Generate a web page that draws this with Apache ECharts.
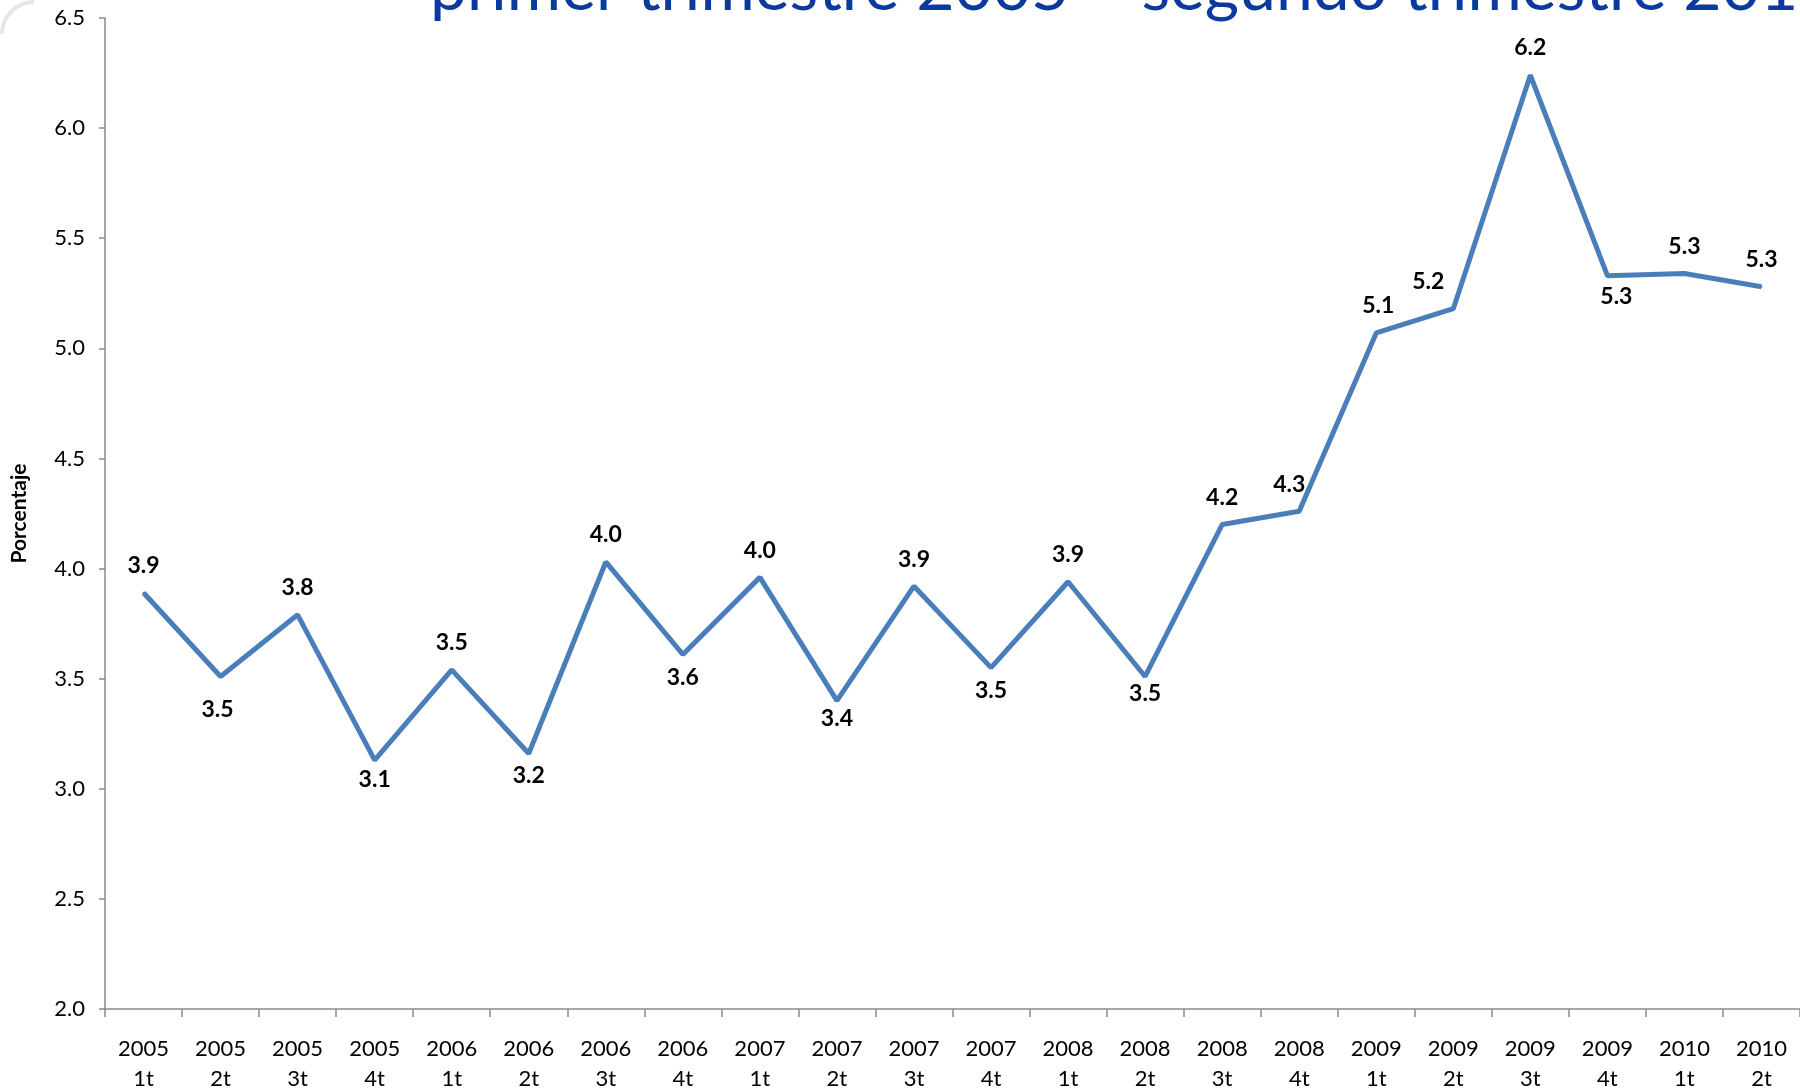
<!DOCTYPE html>
<html>
<head>
<meta charset="utf-8">
<script src="https://cdn.jsdelivr.net/npm/echarts@6/dist/echarts.min.js"></script>
<style>
html,body{margin:0;padding:0;background:#fff;}
#chart{width:1800px;height:1091px;}
</style>
</head>
<body>
<div id="chart"></div>
<script>
// ---- data ----
const years = ['2005','2005','2005','2005','2006','2006','2006','2006','2007','2007','2007','2007','2008','2008','2008','2008','2009','2009','2009','2009','2010','2010'];
const quarters = ['1t','2t','3t','4t','1t','2t','3t','4t','1t','2t','3t','4t','1t','2t','3t','4t','1t','2t','3t','4t','1t','2t'];
const values = [3.89, 3.51, 3.79, 3.13, 3.54, 3.16, 4.03, 3.61, 3.96, 3.40, 3.92, 3.55, 3.94, 3.51, 4.20, 4.26, 5.07, 5.18, 6.24, 5.33, 5.34, 5.28];
const yTicks = { min: 2.0, max: 6.5, interval: 0.5 };
const titleText = 'primer trimestre 2005 \u2013 segundo trimestre 2010';
const yAxisName = 'Porcentaje';

// ---- style: label placement offsets [dx, dy] in px relative to each point ----
const labelOffsets = [
  [0,-27],[-3,33],[0,-27],[0,19],[0,-27],[0,22],[0,-27],[0,23],[0,-27],[0,18],[0,-27],[0,23],
  [0,-27],[0,17],[0,-27],[-10,-27],[2,-27],[-25,-27],[0,-28],[9,21],[0,-27],[0,-27]
];

const categories = years.map((y, i) => y + '\n' + quarters[i]);
const FONT = 'Lato';

const chart = echarts.init(document.getElementById('chart'), null, { renderer: 'canvas' });
chart.setOption({
  backgroundColor: '#ffffff',
  animation: false,
  graphic: [
    {
      type: 'text', x: 430, y: -11,
      style: { text: titleText, font: '66px ' + FONT, fill: '#0B3A9E', verticalAlign: 'middle', align: 'left' }
    },
    {
      type: 'arc', shape: { cx: 34, cy: 34, r: 32, startAngle: Math.PI, endAngle: Math.PI * 1.5 },
      style: { stroke: '#e6e6e6', lineWidth: 4, fill: null }
    }
  ],
  grid: { left: 105, right: 0, top: 18, bottom: 82, containLabel: false, outerBoundsMode: 'none' },
  xAxis: {
    type: 'category',
    data: categories,
    boundaryGap: true,
    axisLine: { lineStyle: { color: '#8a8a8a', width: 1.5 } },
    axisTick: { show: true, length: 8, lineStyle: { color: '#8a8a8a', width: 1.5 } },
    axisLabel: { interval: 0, margin: 25, fontFamily: FONT, fontSize: 22, color: '#000', lineHeight: 30 },
    splitLine: { show: false }
  },
  yAxis: {
    type: 'value',
    min: yTicks.min, max: yTicks.max, interval: yTicks.interval,
    name: yAxisName,
    nameLocation: 'middle',
    nameRotate: 90,
    nameGap: 75,
    nameTextStyle: { fontFamily: FONT, fontWeight: 'bold', fontSize: 21, color: '#000' },
    axisLine: { show: true, lineStyle: { color: '#8a8a8a', width: 1.5 } },
    axisTick: { show: true, length: 6, lineStyle: { color: '#8a8a8a', width: 1.5 } },
    axisLabel: { margin: 20, fontFamily: FONT, fontSize: 22, color: '#000', formatter: v => v.toFixed(1) },
    splitLine: { show: false }
  },
  series: [{
    type: 'line',
    data: values.map((v, i) => ({
      value: v,
      label: { offset: labelOffsets[i] }
    })),
    symbol: 'circle',
    symbolSize: 2,
    showSymbol: true,
    lineStyle: { color: '#4A7EBB', width: 5 },
    itemStyle: { color: '#4A7EBB' },
    label: {
      show: true,
      position: 'inside',
      fontFamily: FONT,
      fontWeight: 'bold',
      fontSize: 23,
      color: '#000',
      formatter: p => p.value.toFixed(1)
    }
  }]
});
</script>
</body>
</html>
